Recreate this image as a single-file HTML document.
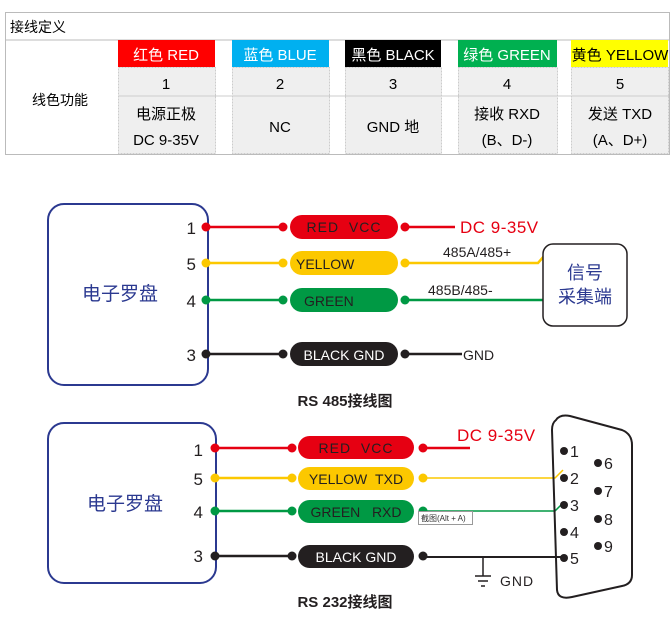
<!DOCTYPE html>
<html><head><meta charset="utf-8"><style>
body{margin:0;background:#fff;width:671px;height:624px;overflow:hidden}
svg{position:absolute;left:0;top:0}
text{font-family:"Liberation Sans","Noto Sans CJK SC",sans-serif}
</style></head><body>
<svg width="671" height="624" viewBox="0 0 671 624">
<!-- table -->
<rect x="5.5" y="12.5" width="664" height="142" fill="#fff" stroke="#bbb"/>
<line x1="5" y1="40" x2="670" y2="40" stroke="#bbb"/>
<text x="10" y="32" font-size="14" fill="#000">接线定义</text>
<text x="60" y="105" font-size="14" text-anchor="middle">线色功能</text>
<g font-size="15" text-anchor="middle">
<rect x="118" y="40" width="97" height="27" fill="#f00"/>
<rect x="232" y="40" width="97" height="27" fill="#00b0f0"/>
<rect x="345" y="40" width="96" height="27" fill="#000"/>
<rect x="458" y="40" width="99" height="27" fill="#00b050"/>
<rect x="571" y="40" width="97" height="27" fill="#ff0"/>
<g fill="#efefef" stroke="#ccc" stroke-dasharray="2,1">
<rect x="118.5" y="67.5" width="97" height="86"/><rect x="232.5" y="67.5" width="97" height="86"/><rect x="345.5" y="67.5" width="96" height="86"/><rect x="458.5" y="67.5" width="99" height="86"/><rect x="571.5" y="67.5" width="97" height="86"/>
</g>
<g stroke="#ccc"><line x1="118" y1="96" x2="669" y2="96"/></g>
<text x="166" y="60" fill="#fff">红色 RED</text>
<text x="280" y="60" fill="#fff">蓝色 BLUE</text>
<text x="393" y="60" fill="#fff">黑色 BLACK</text>
<text x="507" y="60" fill="#fff">绿色 GREEN</text>
<text x="620" y="60" fill="#000">黄色 YELLOW</text>
<text x="166" y="89">1</text><text x="280" y="89">2</text><text x="393" y="89">3</text><text x="507" y="89">4</text><text x="620" y="89">5</text>
<text x="166" y="119">电源正极</text><text x="166" y="145">DC 9-35V</text>
<text x="280" y="132">NC</text><text x="393" y="132">GND 地</text>
<text x="507" y="119">接收 RXD</text><text x="507" y="145">(B、D-)</text>
<text x="620" y="119">发送 TXD</text><text x="620" y="145">(A、D+)</text>
</g>

<!-- RS485 -->
<rect x="48" y="204" width="160" height="181" rx="16" fill="none" stroke="#2b3990" stroke-width="2"/>
<text x="120" y="300" font-size="19" fill="#2b3990" text-anchor="middle">电子罗盘</text>
<g font-size="17" fill="#231f20" text-anchor="end">
<text x="196" y="234">1</text><text x="196" y="270">5</text><text x="196" y="307">4</text><text x="196" y="361">3</text></g>
<g stroke-width="2.5">
<line x1="206" y1="227" x2="283" y2="227" stroke="#e60012"/><line x1="405" y1="227" x2="455" y2="227" stroke="#e60012"/>
<line x1="206" y1="263" x2="283" y2="263" stroke="#fcc800"/><polyline points="405,263 538,263 545,255" fill="none" stroke="#fcc800"/>
<line x1="206" y1="300" x2="283" y2="300" stroke="#009944"/><line x1="405" y1="300" x2="543" y2="300" stroke="#009944"/>
<line x1="206" y1="354" x2="283" y2="354" stroke="#231f20"/><line x1="405" y1="354" x2="462" y2="354" stroke="#231f20"/>
</g>
<g>
<circle cx="206" cy="227" r="4.5" fill="#e60012"/><circle cx="283" cy="227" r="4.5" fill="#e60012"/><circle cx="405" cy="227" r="4.5" fill="#e60012"/>
<circle cx="206" cy="263" r="4.5" fill="#fcc800"/><circle cx="283" cy="263" r="4.5" fill="#fcc800"/><circle cx="405" cy="263" r="4.5" fill="#fcc800"/>
<circle cx="206" cy="300" r="4.5" fill="#009944"/><circle cx="283" cy="300" r="4.5" fill="#009944"/><circle cx="405" cy="300" r="4.5" fill="#009944"/>
<circle cx="206" cy="354" r="4.5" fill="#231f20"/><circle cx="283" cy="354" r="4.5" fill="#231f20"/><circle cx="405" cy="354" r="4.5" fill="#231f20"/>
<rect x="290" y="215" width="108" height="24" rx="12" fill="#e60012"/>
<rect x="290" y="251" width="108" height="24" rx="12" fill="#fcc800"/>
<rect x="290" y="288" width="108" height="24" rx="12" fill="#009944"/>
<rect x="290" y="342" width="108" height="24" rx="12" fill="#231f20"/>
</g>
<g font-size="14">
<text x="344" y="232" text-anchor="middle" fill="#231f20" letter-spacing="1">RED&#160;&#160;VCC</text>
<text x="296" y="269" fill="#231f20">YELLOW</text>
<text x="304" y="306" fill="#231f20">GREEN</text>
<text x="344" y="360" text-anchor="middle" fill="#fff">BLACK GND</text>
<text x="460" y="233" font-size="17" fill="#e60012" letter-spacing="0.5">DC 9-35V</text>
<text x="443" y="257" fill="#231f20">485A/485+</text>
<text x="428" y="295" fill="#231f20">485B/485-</text>
<text x="463" y="360" fill="#231f20">GND</text>
</g>
<rect x="543" y="244" width="84" height="82" rx="10" fill="#fff" stroke="#231f20" stroke-width="1.5"/>
<text x="585" y="279" font-size="18" fill="#2b3990" text-anchor="middle">信号</text>
<text x="585" y="303" font-size="18" fill="#2b3990" text-anchor="middle">采集端</text>
<text x="345" y="406" font-size="15" font-weight="bold" text-anchor="middle" fill="#231f20">RS 485接线图</text>

<!-- RS232 -->
<rect x="48" y="423" width="168" height="160" rx="16" fill="none" stroke="#2b3990" stroke-width="2"/>
<text x="125" y="510" font-size="19" fill="#2b3990" text-anchor="middle">电子罗盘</text>
<g font-size="17" fill="#231f20" text-anchor="end">
<text x="203" y="456">1</text><text x="203" y="485">5</text><text x="203" y="518">4</text><text x="203" y="562">3</text></g>
<g stroke-width="2.5">
<line x1="215" y1="448" x2="292" y2="448" stroke="#e60012"/><line x1="423" y1="448" x2="470" y2="448" stroke="#e60012"/>
<line x1="215" y1="478" x2="292" y2="478" stroke="#fcc800"/>
<line x1="215" y1="511" x2="292" y2="511" stroke="#009944"/>
<line x1="215" y1="556" x2="292" y2="556" stroke="#231f20"/>
</g>
<polyline points="423,478 555,478 563,470" fill="none" stroke="#fcc800" stroke-width="1.5"/>
<polyline points="423,511 555,511 563,503" fill="none" stroke="#009944" stroke-width="1.5"/>
<line x1="423" y1="557" x2="564" y2="557" stroke="#231f20" stroke-width="2"/>
<line x1="483" y1="557" x2="483" y2="576" stroke="#231f20" stroke-width="1.5"/>
<line x1="475" y1="576" x2="491" y2="576" stroke="#231f20" stroke-width="1.5"/>
<line x1="478" y1="581" x2="488" y2="581" stroke="#231f20" stroke-width="1.5"/>
<line x1="481" y1="586" x2="485" y2="586" stroke="#231f20" stroke-width="1.5"/>
<g>
<circle cx="215" cy="448" r="4.5" fill="#e60012"/><circle cx="292" cy="448" r="4.5" fill="#e60012"/><circle cx="423" cy="448" r="4.5" fill="#e60012"/>
<circle cx="215" cy="478" r="4.5" fill="#fcc800"/><circle cx="292" cy="478" r="4.5" fill="#fcc800"/><circle cx="423" cy="478" r="4.5" fill="#fcc800"/>
<circle cx="215" cy="511" r="4.5" fill="#009944"/><circle cx="292" cy="511" r="4.5" fill="#009944"/><circle cx="423" cy="511" r="4.5" fill="#009944"/>
<circle cx="215" cy="556" r="4.5" fill="#231f20"/><circle cx="292" cy="556" r="4.5" fill="#231f20"/><circle cx="423" cy="556" r="4.5" fill="#231f20"/>
<rect x="298" y="436" width="116" height="23" rx="11.5" fill="#e60012"/>
<rect x="298" y="467" width="116" height="23" rx="11.5" fill="#fcc800"/>
<rect x="298" y="500" width="116" height="23" rx="11.5" fill="#009944"/>
<rect x="298" y="545" width="116" height="23" rx="11.5" fill="#231f20"/>
</g>
<g font-size="14" text-anchor="middle">
<text x="356" y="453" fill="#231f20" letter-spacing="1">RED&#160;&#160;VCC</text>
<text x="356" y="484" fill="#231f20">YELLOW&#160;&#160;TXD</text>
<text x="356" y="517" fill="#231f20">GREEN&#160;&#160;&#160;RXD</text>
<text x="356" y="562" fill="#fff">BLACK GND</text>
</g>
<text x="457" y="441" font-size="17" fill="#e60012" letter-spacing="0.5">DC 9-35V</text>
<text x="500" y="586" font-size="14" fill="#231f20" letter-spacing="1">GND</text>
<rect x="418.5" y="511.5" width="54" height="13" fill="#fff" stroke="#999"/>
<text x="421" y="521" font-size="8" fill="#333">截图(Alt + A)</text>
<path d="M556,420 Q560,414 570,416 L622,430 Q632,434 632,445 L632,575 Q632,584 622,586 L572,597 Q558,600 557,590 L552,430 Q552,423 556,420 Z" fill="none" stroke="#231f20" stroke-width="2"/>
<g fill="#231f20" font-size="16">
<circle cx="564" cy="451" r="4"/><text x="570" y="457">1</text>
<circle cx="564" cy="478" r="4"/><text x="570" y="484">2</text>
<circle cx="564" cy="505" r="4"/><text x="570" y="511">3</text>
<circle cx="564" cy="532" r="4"/><text x="570" y="538">4</text>
<circle cx="564" cy="558" r="4"/><text x="570" y="564">5</text>
<circle cx="598" cy="463" r="4"/><text x="604" y="469">6</text>
<circle cx="598" cy="491" r="4"/><text x="604" y="497">7</text>
<circle cx="598" cy="519" r="4"/><text x="604" y="525">8</text>
<circle cx="598" cy="546" r="4"/><text x="604" y="552">9</text>
</g>
<text x="345" y="607" font-size="15" font-weight="bold" text-anchor="middle" fill="#231f20">RS 232接线图</text>
</svg>
</body></html>
